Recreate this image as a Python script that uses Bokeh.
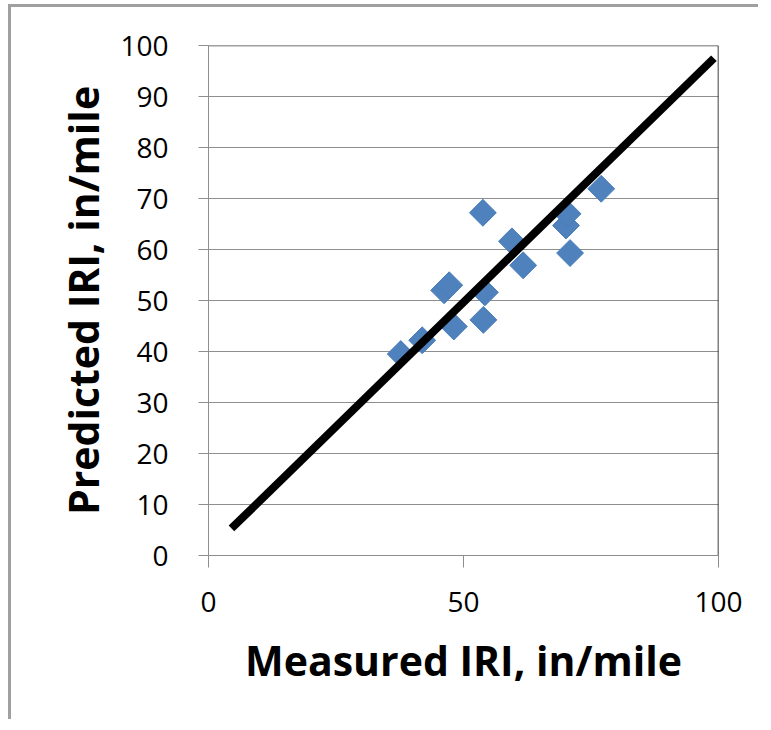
import math
from bokeh.plotting import figure
from bokeh.models import Range1d, FixedTicker, Span
from bokeh.embed import file_html
from bokeh.resources import INLINE

# Data
measured = [37.7, 41.9, 46.2, 47.2, 48.1, 53.8, 54.2, 53.9, 59.5, 61.7, 70.1, 70.4, 70.9, 77.0]
predicted = [39.5, 42.2, 52.0, 53.0, 44.9, 67.2, 51.6, 46.2, 61.6, 56.9, 64.7, 67.0, 59.3, 71.9]
line_x = [4.5, 99.1]
line_y = [5.3, 97.5]
x_ticks = [0, 50, 100]
y_ticks = [0, 10, 20, 30, 40, 50, 60, 70, 80, 90, 100]

p = figure(width=750, height=715, output_backend="svg", toolbar_location=None,
           x_range=Range1d(0, 100), y_range=Range1d(0, 100),
           min_border_left=197, min_border_right=43, min_border_top=38, min_border_bottom=167,
           styles={"border-left": "3px solid #a0a0a0", "border-top": "3px solid #a0a0a0",
                   "margin-left": "8px", "margin-top": "4px"})
p.outline_line_color = None
p.background_fill_color = "white"
p.border_fill_color = "white"

FONT = "Open Sans"
grid_col = "#8e8e8e"

p.xgrid.grid_line_color = None
p.ygrid.grid_line_color = grid_col
p.ygrid.grid_line_width = 1

p.xaxis.ticker = FixedTicker(ticks=x_ticks)
p.yaxis.ticker = FixedTicker(ticks=y_ticks)
p.xaxis.minor_tick_line_color = None
p.yaxis.minor_tick_line_color = None

for ax in (p.xaxis, p.yaxis):
    ax.axis_line_color = grid_col
    ax.major_tick_line_color = grid_col
    ax.major_tick_in = 0
    ax.major_label_text_font = FONT
    ax.major_label_text_font_size = "28px"
    ax.major_label_text_color = "black"
    ax.axis_label_text_font = FONT
    ax.axis_label_text_font_size = "41px"
    ax.axis_label_text_font_style = "bold"
    ax.axis_label_text_color = "black"

p.xaxis.major_tick_out = 12
p.yaxis.major_tick_out = 10
p.xaxis.major_label_standoff = 24
p.yaxis.major_label_standoff = 30
p.xaxis.axis_label = "Measured IRI, in/mile"
p.yaxis.axis_label = "Predicted IRI, in/mile"
p.xaxis.axis_label_standoff = 17
p.yaxis.axis_label_standoff = 6

p.add_layout(Span(location=100, dimension="height", line_color="black", line_width=1.5))
p.add_layout(Span(location=100, dimension="width", line_color="#404040", line_width=1.5))

p.scatter(measured, predicted, marker="square", size=19, angle=math.pi / 4,
          fill_color="#4F81BD", line_color="#4A7EBB", line_width=1)

p.line(line_x, line_y, line_color="black", line_width=8, line_cap="butt")

open("out.html", "w").write(file_html(p, INLINE))
